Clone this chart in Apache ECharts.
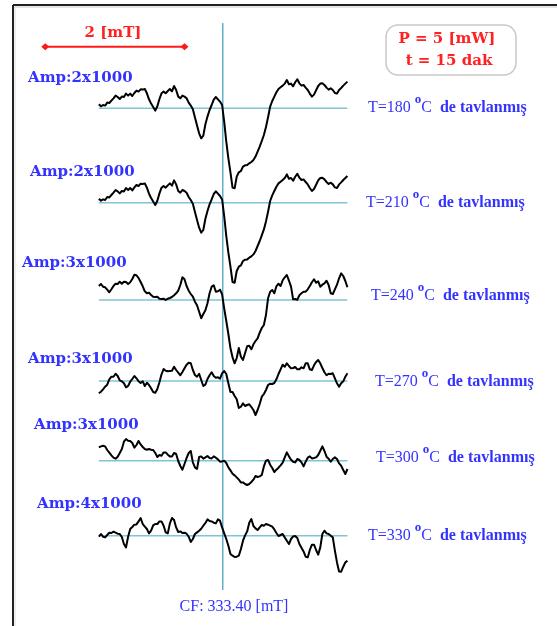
<!DOCTYPE html>
<html>
<head>
<meta charset="utf-8">
<script src="https://cdn.jsdelivr.net/npm/echarts@6/dist/echarts.min.js"></script>
<style>
html,body{margin:0;padding:0;background:#fff;}
#chart{width:557px;height:626px;}
</style>
</head>
<body>
<div id="chart"></div>
<script>
// ---------- DATA ----------
// Magnetic field sample positions (mT)
const fieldMT = [
331.62,331.65,331.68,331.71,331.74,331.77,331.80,331.83,331.86,331.89,
331.92,331.95,331.98,332.01,332.04,332.07,332.10,332.13,332.16,332.19,
332.22,332.25,332.28,332.31,332.34,332.37,332.40,332.43,332.46,332.49,
332.52,332.55,332.58,332.61,332.64,332.67,332.70,332.73,332.76,332.79,
332.82,332.85,332.88,332.91,332.94,332.97,333.00,333.03,333.06,333.09,
333.12,333.15,333.18,333.21,333.24,333.27,333.30,333.33,333.36,333.39,
333.42,333.45,333.48,333.51,333.54,333.57,333.60,333.63,333.66,333.69,
333.72,333.75,333.78,333.81,333.84,333.87,333.90,333.93,333.96,333.99,
334.02,334.05,334.08,334.11,334.14,334.17,334.20,334.23,334.26,334.29,
334.32,334.35,334.38,334.41,334.44,334.47,334.50,334.53,334.56,334.59,
334.62,334.65,334.68,334.71,334.74,334.77,334.80,334.83,334.86,334.89,
334.92,334.95,334.98,335.01,335.04,335.07,335.10,335.13,335.16,335.19
];

// EPR signal (arbitrary units) for each annealing temperature
const trace180 = [
4,2,3.3,2.7,5.7,5.3,7.7,10,12.7,11.3,
9.3,11.7,11.3,14.7,12.7,14.7,12.3,15.3,17.7,16.7,
19,18.7,19.3,15,9,4.7,1.3,-2.3,2,9.3,
15,16.7,15,17.3,19.3,17,22.3,18.3,11.7,10,
12.7,11.7,10,5.7,2.7,-1,-9.3,-17.3,-25,-30,
-27.3,-16,-8.3,-1.7,3.3,8.7,11.3,9,6.7,3.3,
-13.3,-33.3,-50,-64,-79.3,-80,-68.3,-64,-62.7,-58.3,
-57,-56.7,-55,-53.7,-51.7,-48.3,-43.3,-38.3,-32.7,-26.7,
-18.7,-9,1.7,7.3,11.7,16,19.3,21,22.7,24.7,
28.3,24,24.7,22,26,29,25,22.7,23.3,20.7,
18.3,14.7,11.7,13.7,18,22.3,24.7,25,23.3,20.7,
18.7,20,18.3,15.3,14.7,18.3,20.3,22.7,24.7,26.7
];
const trace210 = [
4,2,3.3,2.7,5.7,5.3,7.7,10,12.7,11.3,
9.3,11.7,11.3,14.7,12.7,14.7,12.3,15.3,17.7,16.7,
19,18.7,19.3,15,9,4.7,1.3,-2.3,2,9.3,
15,16.7,15,17.3,19.3,17,22.3,18.3,11.7,10,
12.7,11.7,10,5.7,2.7,-1,-9.3,-17.3,-25,-30,
-27.3,-16,-8.3,-1.7,3.3,8.7,11.3,9,6.7,3.3,
-13.3,-33.3,-50,-64,-79.3,-80,-68.3,-64,-62.7,-58.3,
-57,-56.7,-55,-53.7,-51.7,-48.3,-43.3,-38.3,-32.7,-26.7,
-18.7,-9,1.7,7.3,11.7,16,19.3,21,22.7,24.7,
28.3,24,24.7,22,26,29,25,22.7,23.3,20.7,
18.3,14.7,11.7,13.7,18,22.3,24.7,25,23.3,20.7,
18.7,20,18.3,15.3,14.7,18.3,20.3,22.7,24.7,26.7
];
const trace240 = [
14,16,13.3,12.7,10.3,7.7,10.7,14,16.3,16,
18.3,16.3,18.3,18,16,17.7,21,25.3,24.7,22,
18,13.7,8.7,6.7,7.3,5,3.3,3,3.3,1.3,
1,1.3,0,1.3,2,3,4.7,6.7,9.3,15,
22.7,20.7,14,9.3,6,3.3,-1.7,-5.3,-11.7,-18.3,
-14,-10.3,-3.3,6.7,13.3,14.7,8.3,8.7,10.3,5.7,
-8.3,-21,-34,-48.3,-57.3,-63.3,-58,-48,-56.7,-60,
-53,-46.3,-45.7,-49.3,-44.3,-41,-38.3,-32.7,-28,-25,
-15,1.7,8.3,10,6.7,13.7,16.3,14,19.7,22.7,
25,19.3,13.3,0.7,1,0.3,4.7,6.7,8.3,8.3,
10.7,14,17.7,20.7,17.3,18.7,13.3,15.3,16.7,19.3,
15,6.7,6,10.7,15.3,21.7,26.7,24,19,12.7
];
const trace270 = [
-12.3,-10.7,-8.3,-5.7,-3.7,1.7,4.3,4.3,7.3,5,
0.7,-0.3,-2.3,-6.3,-5,-0.7,2,5,2.7,-0.3,
-2,-0.3,-5,-1.7,-4,-7.3,-11,-11.7,-8,-1.3,
6.7,12,10.3,9.7,10,10.3,14.3,11,8.3,5.7,
9,12.7,16.3,18.3,17.7,11,6,4.3,7.3,1,
-5,-3.7,2,5.7,8.7,5,3.3,3.7,2.3,7.7,
10,7,-2.3,-11,-11,-15,-18.3,-27,-25.7,-22.3,
-25,-24,-23.3,-26,-29,-34,-29,-23,-15.7,-13,
-9,-4,-2.7,-3,-2,1.7,7,11.7,16.3,14.3,
17.7,15,12.7,13,14,11.7,11.7,13.7,12.7,17.7,
17.7,11.7,11,15.7,19,21,17.7,13,8.7,5.7,
7.3,7,7.7,2.7,-2.3,-5.7,-2.3,-0.3,4.3,7.7
];
const trace300 = [
13.3,14.3,15,14.3,10.7,8,5.3,3,2,4,
7.7,11.7,19,21.7,20,19.7,17.7,13,15.7,19.7,
16.3,13.7,11.7,11,11.7,11,10.7,7.7,3.7,5.7,
5,8.3,8.3,6,4.3,4.3,7.7,6.7,-0.3,-5.3,
-9,-3.3,2.7,7.7,9.7,-1.7,-6.7,-8.3,3.7,4.3,
2,3.3,4.7,2.7,2.3,4.3,3,1.3,-1,-0.7,
0,-2.3,-6.7,-9.7,-13,-14.7,-16.7,-19,-21.7,-21.7,
-23.3,-24.3,-23.3,-21.3,-19,-15.3,-16.3,-15.7,-14.3,-5.7,
0,0.7,-4,-7.3,-11.3,-9,-7,-4.7,-2,3.3,
8.3,4.3,1,-1,-1.7,1.7,0.7,-1.7,-5.7,-1,
3,4.3,2.3,2.7,3.3,5.7,10,14.3,9.7,4,
2,-1,1.7,3.3,1.7,-2.7,-5,-9.3,-13.3,-8.3
];
const trace330 = [
-1,1.7,-1,-1.7,0.7,3,2.7,4,3,2,
1.7,-1.3,-8.3,-11.7,-1,6.7,8.7,11,11.3,14.3,
17.7,11.7,9,6.7,2.3,5,10.3,11.7,11.7,14.3,
14.3,10,3.3,2.3,12.3,17.7,15.7,8.3,3.7,4.3,
2.7,3,2,-1,-6.3,-3.3,1.7,3.3,5,7,
10,12.7,16.3,14.7,14.3,13,12.3,16.3,15,8.3,
2.3,-3.3,-10,-18.3,-20,-21.3,-21,-20,-13.3,-5,
0.3,4.3,13,16.7,9.7,7.3,5.7,8.3,10.7,10,
11.7,11,10,9,6.3,2.7,-0.3,0.7,1.7,-1.7,
-5,-8.3,-3.3,-0.7,-0.3,-2.3,-8.3,-12,-15.7,-21,
-21.7,-14.3,-9,-9,-14.3,-19,-11.7,1.7,5,2.3,
1.7,0,-1.7,-15,-26.7,-35.7,-36,-31,-26.7,-25
];

const temperatures = ['180', '210', '240', '270', '300', '330'];
const ampLabels = ['Amp:2x1000', 'Amp:2x1000', 'Amp:3x1000', 'Amp:3x1000', 'Amp:3x1000', 'Amp:4x1000'];
const centerFieldMT = 333.40;
const scaleBarMT = 2;
const powerText = 'P = 5 [mW]';
const timeText = 't = 15 dak';

// ---------- LAYOUT ----------
const W = 557, H = 626;
const X_MIN = 330.2, X_MAX = 338.2;
const traces = [trace180, trace210, trace240, trace270, trace300, trace330];
const baseY = [108.3, 202.7, 300, 381, 460.7, 535.7];
const ampPos = [[28, 78], [30, 172], [22, 263], [28, 359], [34, 425], [37, 504]];
const tPos = [[368, 108], [366, 203], [371, 296], [375, 382], [376, 458], [368, 536]];
const BLUE = '#3333ff', RED = '#ff2020';

const grids = [], xAxes = [], yAxes = [], series = [];
traces.forEach((vals, i) => {
  grids.push({ left: 0, top: baseY[i] - 100, width: W, height: 200, outerBoundsMode: 'none' });
  xAxes.push({ type: 'value', gridIndex: i, min: X_MIN, max: X_MAX, show: false });
  yAxes.push({ type: 'value', gridIndex: i, min: -100, max: 100, show: false });
  series.push({
    type: 'line', xAxisIndex: i, yAxisIndex: i, silent: true, clip: false, z: 1,
    data: [[fieldMT[0], 0], [fieldMT[fieldMT.length - 1], 0]],
    symbol: 'none', lineStyle: { color: '#80c4d8', width: 1.5 }
  });
  series.push({
    type: 'line', xAxisIndex: i, yAxisIndex: i, silent: true, clip: false, z: 3,
    data: fieldMT.map((f, k) => [f, vals[k]]),
    symbol: 'none', lineStyle: { color: '#000', width: 2, join: 'round' }
  });
});
// overlay grid (pixel-like y) for CF line & scale bar
const OV = traces.length;
grids.push({ left: 0, top: 0, width: W, height: H, outerBoundsMode: 'none' });
xAxes.push({ type: 'value', gridIndex: OV, min: X_MIN, max: X_MAX, show: false });
yAxes.push({ type: 'value', gridIndex: OV, min: 0, max: H, inverse: true, show: false });
series.push({
  type: 'line', xAxisIndex: OV, yAxisIndex: OV, silent: true, clip: false, z: 2,
  data: [[centerFieldMT, 23], [centerFieldMT, 590]],
  symbol: 'none', lineStyle: { color: '#3b9cc4', width: 1.2 }
});
const sbStart = 330.85;
series.push({
  type: 'line', xAxisIndex: OV, yAxisIndex: OV, silent: true, clip: false, z: 2,
  data: [[sbStart, 46.7], [sbStart + scaleBarMT, 46.7]],
  symbol: 'diamond', symbolSize: [8, 7], showSymbol: true,
  itemStyle: { color: '#ff1a1a' }, lineStyle: { color: '#ff1a1a', width: 2 }
});

const graphic = [
  { type: 'line', shape: { x1: 13, y1: 5, x2: W, y2: 5 }, style: { stroke: '#222', lineWidth: 2 } },
  { type: 'line', shape: { x1: 13, y1: 5, x2: 13, y2: H }, style: { stroke: '#222', lineWidth: 2 } },
  { type: 'line', shape: { x1: 14, y1: 7, x2: W, y2: 7 }, style: { stroke: '#ccc', lineWidth: 1 } },
  { type: 'line', shape: { x1: 15, y1: 7, x2: 15, y2: H }, style: { stroke: '#ddd', lineWidth: 1 } },
  { type: 'text', style: { x: 113, y: 33, text: '2 [mT]', fill: RED, font: 'bold 15px "DejaVu Serif"', align: 'center', verticalAlign: 'middle' } },
  { type: 'rect', shape: { x: 386, y: 25, width: 130, height: 50, r: 12 }, style: { fill: '#fff', stroke: '#c8c8c8', lineWidth: 1.5 } },
  { type: 'text', style: { x: 447, y: 39, text: powerText, fill: RED, font: 'bold 15px "DejaVu Serif"', align: 'center', verticalAlign: 'middle' } },
  { type: 'text', style: { x: 449, y: 61, text: timeText, fill: RED, font: 'bold 15px "DejaVu Serif"', align: 'center', verticalAlign: 'middle' } },
  { type: 'text', style: { x: 234, y: 607, text: 'CF: ' + centerFieldMT.toFixed(2) + ' [mT]', fill: BLUE, font: '16px "Liberation Serif"', align: 'center', verticalAlign: 'middle' } }
];
ampLabels.forEach((t, i) => {
  graphic.push({ type: 'text', style: { x: ampPos[i][0], y: ampPos[i][1], text: t, fill: BLUE, font: 'bold 15px "DejaVu Serif"', align: 'left', verticalAlign: 'middle' } });
});
temperatures.forEach((t, i) => {
  graphic.push({
    type: 'text',
    style: {
      x: tPos[i][0], y: tPos[i][1], align: 'left', verticalAlign: 'middle',
      text: '{n|T=' + t + ' }{s|o}{n|C}{b|  de tavlanmış}',
      rich: {
        n: { fill: BLUE, fontFamily: 'Liberation Serif', fontSize: 16 },
        s: { fill: BLUE, fontFamily: 'Liberation Serif', fontSize: 13, fontWeight: 'bold', padding: [0, 0, 16, 0] },
        b: { fill: BLUE, fontFamily: 'Liberation Serif', fontSize: 16, fontWeight: 'bold' }
      }
    }
  });
});

const chart = echarts.init(document.getElementById('chart'), null, { renderer: 'canvas' });
chart.setOption({
  animation: false,
  backgroundColor: '#fff',
  grid: grids, xAxis: xAxes, yAxis: yAxes, series: series, graphic: graphic
});
</script>
</body>
</html>
